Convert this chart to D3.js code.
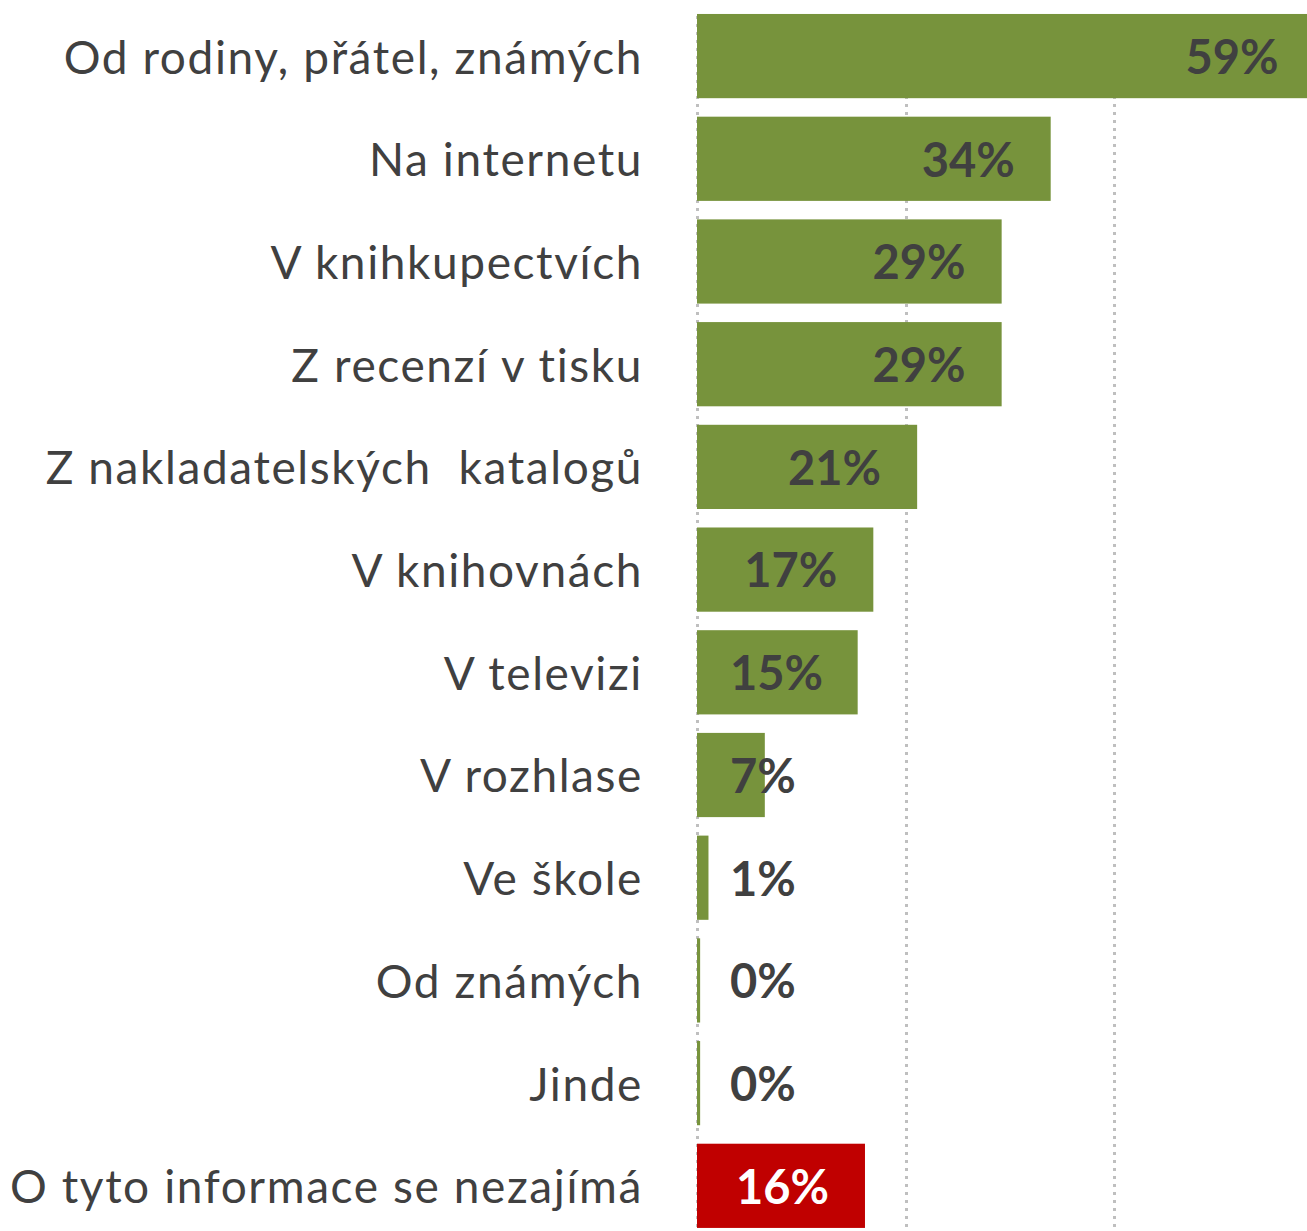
<!DOCTYPE html>
<html>
<head>
<meta charset="utf-8">
<script src="https://cdn.jsdelivr.net/npm/d3@7"></script>
<style>
  body { margin: 0; background: #fff; }
  svg text { font-family: Lato, "Open Sans", sans-serif; }
</style>
</head>
<body>
<svg id="chart" width="1307" height="1231"></svg>
<script>
// categories top -> bottom
const categories = [
  "Od rodiny, přátel, známých",
  "Na internetu",
  "V knihkupectvích",
  "Z recenzí v tisku",
  "Z nakladatelských  katalogů",
  "V knihovnách",
  "V televizi",
  "V rozhlase",
  "Ve škole",
  "Od známých",
  "Jinde",
  "O tyto informace se nezajímá"
];
// share of respondents, %
const values = [59.2, 33.9, 29.2, 29.2, 21.1, 16.9, 15.4, 6.5, 1.1, 0.3, 0.3, 16.1];
const highlight = ["O tyto informace se nezajímá"];
const gridTicks = [0, 20, 40, 60];

const green = "#77933c", red = "#c00000", textCol = "#404040";

const svg = d3.select("#chart");

const x = d3.scaleLinear().domain([0, 60]).range([697, 1323]);
const y = d3.scaleBand().domain(categories).range([3.7, 1238.2]).paddingInner(0.18).paddingOuter(0.1);

// dotted gridlines (behind bars)
svg.append("g").selectAll("line")
  .data(gridTicks)
  .join("line")
    .attr("x1", d => Math.round(x(d)) + 0.5)
    .attr("x2", d => Math.round(x(d)) + 0.5)
    .attr("y1", 16)
    .attr("y2", 1231)
    .attr("stroke", "#bfbfbf")
    .attr("stroke-width", 3)
    .attr("stroke-dasharray", "3,5");

const data = categories.map((c, i) => ({ cat: c, v: values[i] }));

svg.append("g").selectAll("rect")
  .data(data)
  .join("rect")
    .attr("x", x(0))
    .attr("y", d => y(d.cat))
    .attr("width", d => Math.max(x(d.v) - x(0), 0))
    .attr("height", y.bandwidth())
    .attr("fill", d => highlight.includes(d.cat) ? red : green);

// category labels
svg.append("g").selectAll("text")
  .data(data)
  .join("text")
    .attr("x", 643)
    .attr("y", d => y(d.cat) + y.bandwidth() / 2)
    .attr("dy", "0.38em")
    .attr("text-anchor", "end")
    .attr("font-size", 46)
    .attr("letter-spacing", "1.6px")
    .attr("fill", textCol)
    .style("white-space", "pre")
    .text(d => d.cat);

// value labels: inside end, but never left of a minimum offset
const vl = svg.append("g").selectAll("text")
  .data(data)
  .join("text")
    .attr("y", d => y(d.cat) + y.bandwidth() / 2)
    .attr("dy", "0.38em")
    .attr("font-size", 47)
    .attr("font-weight", "bold")
    .attr("fill", d => highlight.includes(d.cat) ? "#fff" : textCol)
    .text(d => Math.round(d.v) + "%");

vl.attr("x", function(d) {
  const w = this.getComputedTextLength();
  return Math.max(x(d.v) - 36 - w, x(0) + 33);
});
</script>
</body>
</html>
